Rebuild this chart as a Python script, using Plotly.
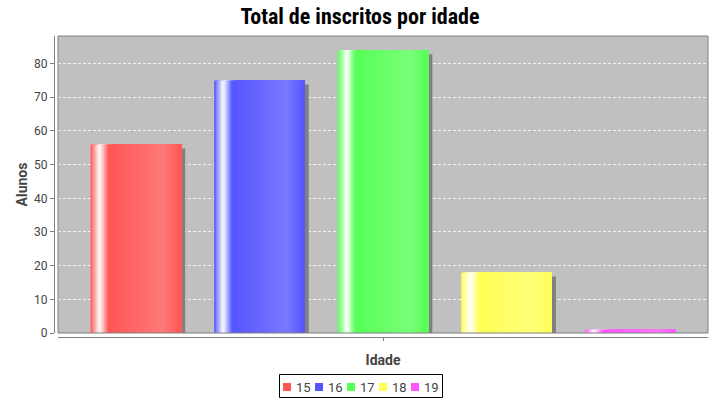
import plotly.graph_objects as go

# ---------------- data ----------------
TITLE = "Total de inscritos por idade"
X_TITLE = "Idade"
Y_TITLE = "Alunos"
CATEGORY = ["Idade"]                      # single category on the x axis
idades = ["15", "16", "17", "18", "19"]   # series (ages)
alunos = [56, 75, 84, 18, 1]              # number of students per age
y_ticks = [0, 10, 20, 30, 40, 50, 60, 70, 80]
cores = ["#FF5555", "#5555FF", "#55FF55", "#FFFF55", "#FF55FF"]

# ---------------- geometry / style ----------------
W, H = 720, 400
ML, MR, MT, MB = 54, 12, 36, 63
PW, PH = W - ML - MR, H - MT - MB         # paper size in px
AX_OFF = 4                                # axis offset from plot area (px)
XDOM0 = AX_OFF / PW
YDOM0 = AX_OFF / PH
PLOT_W = PW - AX_OFF
PLOT_H = PH - AX_OFF
Y_MAX = 88.2

CAT_MARGIN = 0.05
BAR_W = 0.1395
GAP = (1 - 2 * CAT_MARGIN - len(alunos) * BAR_W) / (len(alunos) - 1)
N_STRIPS = 48
SHADOW_PX = 4


def hex2rgb(h):
    h = h.lstrip("#")
    return tuple(int(h[i:i + 2], 16) for i in (0, 2, 4))


def brighter(c):
    return tuple(min(int(v / 0.7), 255) if v >= 3 else 3 for v in c)


def mix(a, b, t):
    return tuple(a[k] + (b[k] - a[k]) * t for k in range(3))


def grad_color(c0, t):
    c1 = brighter(c0)
    white = (255, 255, 255)
    if t < 0.1:
        c = mix(c0, white, t / 0.1)
    elif t < 0.2:
        c = mix(white, c0, (t - 0.1) / 0.1)
    elif t < 0.8:
        c = mix(c0, c1, (t - 0.2) / 0.6)
    else:
        c = mix(c1, c0, (t - 0.8) / 0.2)
    return "rgb(%d,%d,%d)" % tuple(round(v) for v in c)


fig = go.Figure()

# shadows
lefts = [-0.5 + CAT_MARGIN + i * (BAR_W + GAP) for i in range(len(alunos))]
shadow_dx = SHADOW_PX / PLOT_W
shadow_dy = SHADOW_PX * Y_MAX / PLOT_H
fig.add_trace(go.Bar(
    x=CATEGORY * len(alunos), y=alunos,
    base=[-shadow_dy] * len(alunos),
    offset=[l + shadow_dx for l in lefts], width=[BAR_W] * len(alunos),
    marker=dict(color="#808080", line=dict(width=0)),
    showlegend=False, hoverinfo="skip",
))

# gradient bars (drawn as overlapping strips)
dw = BAR_W / N_STRIPS
for i, (idade, v, cor) in enumerate(zip(idades, alunos, cores)):
    c0 = hex2rgb(cor)
    offs = [lefts[i] + j * dw for j in range(N_STRIPS)]
    wids = [BAR_W - j * dw for j in range(N_STRIPS)]
    cols = [grad_color(c0, (j + 0.5) / N_STRIPS) for j in range(N_STRIPS)]
    fig.add_trace(go.Bar(
        x=CATEGORY * N_STRIPS, y=[v] * N_STRIPS,
        offset=offs, width=wids,
        marker=dict(color=cols, line=dict(width=0)),
        name=idade, showlegend=False,
        hovertemplate=idade + ": %{y}<extra></extra>",
    ))

# manual legend (JFreeChart style)
def px2paper_x(px):
    return (px - ML) / PW


def px2paper_y(py):
    return (H - MB - py) / PH


shapes = [
    # plot outline
    dict(type="rect", xref="paper", yref="paper", x0=XDOM0, x1=1, y0=YDOM0, y1=1,
         line=dict(color="#808080", width=1), layer="above"),
    # legend frame
    dict(type="rect", xref="paper", yref="paper",
         x0=px2paper_x(279.5), x1=px2paper_x(442.5),
         y0=px2paper_y(397.5), y1=px2paper_y(374.5),
         line=dict(color="#000000", width=1), fillcolor="#FFFFFF"),
]
annotations = []
for i, (idade, cor) in enumerate(zip(idades, cores)):
    sx = 283 + 32 * i
    shapes.append(dict(type="rect", xref="paper", yref="paper",
                       x0=px2paper_x(sx), x1=px2paper_x(sx + 8),
                       y0=px2paper_y(391), y1=px2paper_y(383),
                       line=dict(width=0), fillcolor=cor))
    annotations.append(dict(text=idade, xref="paper", yref="paper",
                            x=px2paper_x(sx + 11), y=px2paper_y(387),
                            xanchor="left", yanchor="middle", showarrow=False,
                            font=dict(family="Roboto", size=13, color="#444444")))

fig.update_layout(
    width=W, height=H,
    margin=dict(l=ML, r=MR, t=MT, b=MB),
    paper_bgcolor="#FFFFFF", plot_bgcolor="#C0C0C0",
    barmode="overlay",
    title=dict(text="<b>" + TITLE + "</b>", x=0.5, xanchor="center",
               y=1 - 16 / H, yanchor="middle",
               font=dict(family="Roboto Condensed, Liberation Sans Narrow, Roboto", size=22, color="#000000")),
    xaxis=dict(domain=[XDOM0, 1], anchor="free", position=0,
               range=[-0.5, 0.5], showticklabels=False,
               ticks="outside", ticklen=3, tickcolor="#808080",
               showline=True, linecolor="#808080", linewidth=1,
               showgrid=False, zeroline=False,
               title=dict(text="<b>" + X_TITLE + "</b>", standoff=15,
                          font=dict(family="Roboto", size=14, color="#444444"))),
    yaxis=dict(domain=[YDOM0, 1], anchor="free", position=0,
               range=[0, Y_MAX], tickvals=y_ticks,
               ticks="outside", ticklen=4, tickcolor="#808080",
               ticklabelstandoff=0,
               tickfont=dict(family="Roboto", size=12, color="#444444"),
               showline=True, linecolor="#808080", linewidth=1,
               showgrid=True, gridcolor="rgba(255,255,255,0.8)", gridwidth=1,
               griddash="3px,2px", zeroline=False,
               title=dict(text="<b>" + Y_TITLE + "</b>", standoff=2,
                          font=dict(family="Roboto", size=14, color="#444444"))),
    shapes=shapes,
    annotations=annotations,
)

fig.write_html("out.html", config={"displayModeBar": False},
               post_script="document.body.style.margin='0';document.body.style.padding='0';")
